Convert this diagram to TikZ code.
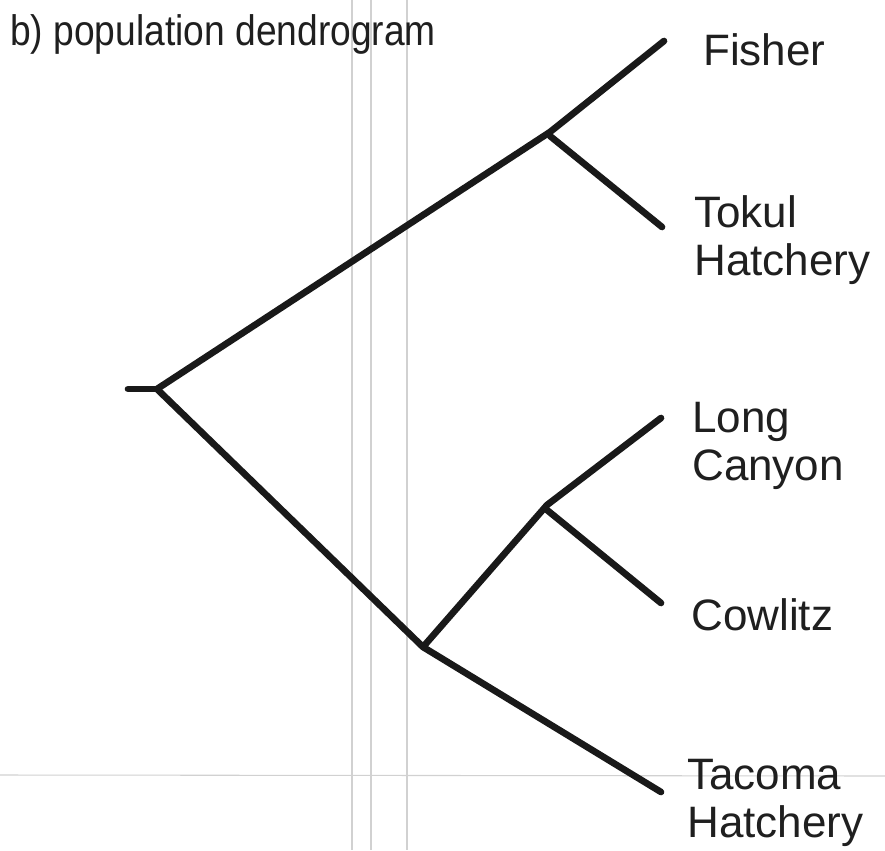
\documentclass[tikz,border=0pt]{standalone}
\usepackage{fontspec}
\setmainfont{Liberation Sans}
\begin{document}
\begin{tikzpicture}[x=0.75pt,y=-0.75pt,
  branch/.style={line width=5pt,draw=black!90,line cap=round,line join=round},
  guide/.style={line width=0.8pt,draw=black!18},
  leaf/.style={anchor=base west,inner sep=0pt,align=left,font=\fontsize{33}{36}\selectfont,text=black!88}]
\useasboundingbox (0,0) rectangle (885,850);
\fill[white] (0,0) rectangle (885,850);

% faint ruling lines of the sheet
\draw[guide] (352,0) -- (352,850);
\draw[guide] (371,0) -- (371,850);
\draw[guide] (407,0) -- (407,850);
\draw[guide] (0,775) -- (885,776);

% title
\node[anchor=base west,inner sep=0pt,text=black!88] (title) at (10,45)
  {\scalebox{0.845}[0.97]{\fontsize{33}{36}\selectfont b) population dendrogram}};

% tree points
\coordinate (stub) at (128,389);
\coordinate (root) at (157,389);
\coordinate (up) at (550,132);
\coordinate (upb) at (550,136);
\coordinate (low) at (423,647);
\coordinate (mid) at (547,505);
\coordinate (midb) at (547,510);
\coordinate (tF) at (664,41);
\coordinate (tT) at (662,227);
\coordinate (tL) at (661,418);
\coordinate (tC) at (661,603);
\coordinate (tH) at (661,792);

% branches
\draw[branch] (stub) -- (root);
\draw[branch] (root) -- (up) -- (tF);
\draw[branch] (upb) -- (tT);
\draw[branch] (root) -- (low) -- (mid) -- (tL);
\draw[branch] (midb) -- (tC);
\draw[branch] (low) -- (tH);

% leaf labels (base anchor sits on the last line)
\node[leaf] (fisher) at (703,65) {Fisher};
\node[leaf] (tokul) at (694,275) {Tokul\\Hatchery};
\node[leaf] (long) at (692,480) {Long\\Canyon};
\node[leaf] (cowlitz) at (691,630) {Cowlitz};
\node[leaf] (tacoma) at (687,837) {Tacoma\\Hatchery};
\end{tikzpicture}
\end{document}
